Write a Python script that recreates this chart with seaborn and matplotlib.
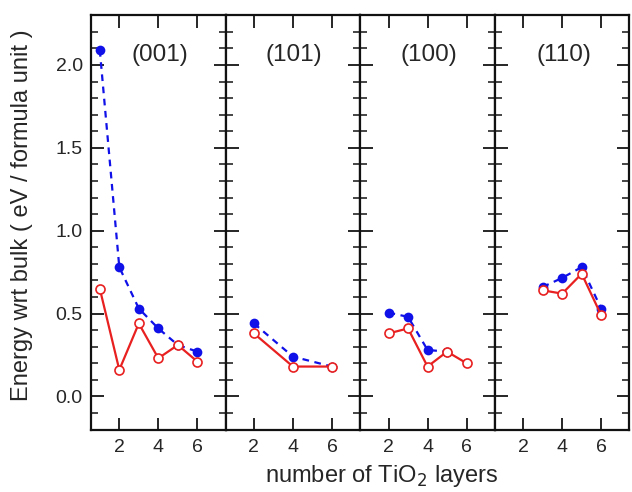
import matplotlib
matplotlib.use("Agg")
import matplotlib.pyplot as plt
import seaborn as sns
import pandas as pd
from matplotlib.ticker import MultipleLocator, FixedLocator, FormatStrFormatter

# surface facets, one panel each
facets = ["(001)", "(101)", "(100)", "(110)"]

# blue filled circles, dashed line
blue_x = [[1, 2, 3, 4, 5, 6], [2, 4, 6], [2, 3, 4, 5], [3, 4, 5, 6]]
blue_y = [[2.09, 0.78, 0.53, 0.41, 0.31, 0.27],
          [0.44, 0.24, 0.18],
          [0.505, 0.48, 0.28, 0.27],
          [0.66, 0.715, 0.78, 0.53]]

# red open circles, solid line
red_x = [[1, 2, 3, 4, 5, 6], [2, 4, 6], [2, 3, 4, 5, 6], [3, 4, 5, 6]]
red_y = [[0.65, 0.16, 0.44, 0.23, 0.31, 0.21],
         [0.38, 0.18, 0.18],
         [0.38, 0.41, 0.18, 0.27, 0.20],
         [0.64, 0.62, 0.74, 0.49]]

x_ticks = [2, 4, 6]

sns.set_theme(style="ticks")
plt.rcParams["font.family"] = ["Liberation Sans", "DejaVu Sans"]

blue = "#1010e8"
red = "#e82020"

fig, axes = plt.subplots(1, 4, sharey=True, figsize=(6.32, 4.92), dpi=100)
fig.subplots_adjust(left=0.144, right=0.996, top=0.969, bottom=0.127, wspace=0)

for i, ax in enumerate(axes):
    db = pd.DataFrame({"n": blue_x[i], "E": blue_y[i]})
    dr = pd.DataFrame({"n": red_x[i], "E": red_y[i]})
    sns.lineplot(data=db, x="n", y="E", ax=ax, color=blue, linestyle=(0, (3, 2.5)),
                 linewidth=1.6, marker="o", markersize=7, markeredgewidth=0,
                 markerfacecolor=blue, zorder=2)
    sns.lineplot(data=dr, x="n", y="E", ax=ax, color=red, linewidth=1.6,
                 marker="o", markersize=6.5, markerfacecolor="white",
                 markeredgecolor=red, markeredgewidth=1.2, zorder=3)
    ax.set_xlim(0.55, 7.45)
    ax.set_ylim(-0.2, 2.3)
    ax.xaxis.set_major_locator(FixedLocator(x_ticks))
    ax.yaxis.set_major_locator(MultipleLocator(0.5))
    ax.yaxis.set_minor_locator(MultipleLocator(0.1))
    ax.tick_params(axis="x", which="major", direction="in", top=True, bottom=True,
                   length=9, width=1.4, labelsize=14, pad=7)
    ax.tick_params(axis="y", which="major", direction="in", left=True, right=True,
                   length=9, width=1.4, labelsize=14, pad=6)
    ax.tick_params(axis="y", which="minor", direction="in", left=True, right=True,
                   length=5, width=1.2)
    ax.set_xlabel("")
    ax.set_ylabel("")
    for s in ax.spines.values():
        s.set_linewidth(1.6)
        s.set_color("#111111")
    ax.text(0.51, 0.903, facets[i], transform=ax.transAxes, ha="center", va="center",
            fontsize=17.5)

axes[0].yaxis.set_major_formatter(FormatStrFormatter("%.1f"))
fig.text(0.035, 1 - 215 / 492, "Energy wrt bulk ( eV / formula unit )", rotation=90,
         ha="center", va="center", fontsize=17)
fig.text(0.604, 1 - 482 / 492, "number of TiO$_2$ layers", ha="center", va="baseline",
         fontsize=17)

fig.savefig("out.png", dpi=100)
